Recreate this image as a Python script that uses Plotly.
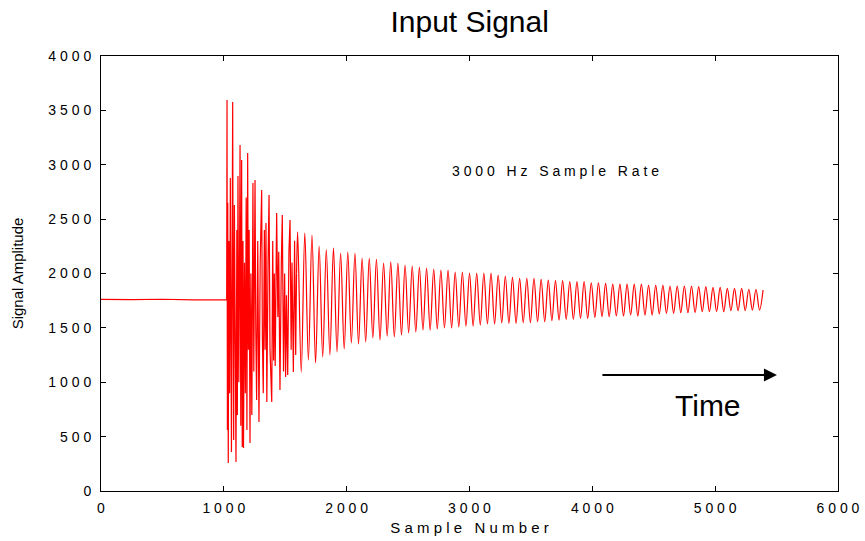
import plotly.graph_objects as go

# ---------------- data ----------------
# flat pre-trigger baseline
baseline_samples = [0, 250, 500, 750, 1023]
baseline_values = [1762, 1759, 1763, 1758, 1760]

# chaotic onset burst (sample, amplitude) extremes
burst_samples = [1023, 1026, 1029, 1032, 1036, 1041, 1047, 1053, 1062, 1067,
                 1072, 1077, 1080, 1086, 1093, 1099, 1106, 1110, 1115, 1122,
                 1128, 1132, 1138, 1145, 1150, 1156, 1160, 1168, 1175, 1182,
                 1188, 1194, 1200, 1206, 1213, 1220, 1228, 1237, 1244, 1254,
                 1260, 1267, 1276, 1286, 1296, 1308, 1314, 1321, 1330, 1336,
                 1343, 1350, 1360, 1368, 1376, 1390, 1398, 1405, 1411, 1418,
                 1430, 1440, 1447, 1457, 1468, 1476, 1486, 1495, 1503, 1510,
                 1520, 1530, 1539, 1548, 1555, 1566, 1576, 1585, 1592]
burst_values = [1760, 3595, 560, 2650, 257, 2300, 900, 2878, 359, 2600,
                3577, 1300, 469, 2630, 1500, 267, 2400, 700, 2896, 1000,
                2200, 3182, 600, 3044, 405, 2300, 395, 2100, 900, 2700,
                560, 3108, 1300, 2400, 441, 2000, 700, 2832, 1100, 2860,
                1500, 837, 2300, 634, 2100, 2768, 1400, 900, 2400, 1300,
                2464, 818, 2100, 2722, 1300, 818, 2300, 1200, 2000, 1150,
                2556, 1600, 2200, 929, 2100, 2538, 1100, 2000, 1048, 1800,
                1067, 2200, 2492, 1300, 2100, 1094, 2300, 1250, 2000]

# regular decaying oscillation: one peak and one trough per cycle
CYCLE_START = 1601      # sample of first regular peak
PERIOD = 58.3           # samples per cycle
peak_values = [2384, 2372, 2354, 2253, 2220, 2234, 2188, 2197, 2188, 2142, 2142, 2133, 2096,
               2106, 2096, 2078, 2069, 2060, 2050, 2041, 2032, 2032, 2014, 2014, 2004, 2004,
               2004, 2004, 1986,
               1977, 1965, 1956, 1956, 1956, 1947, 1940, 1934, 1934, 1925, 1925, 1925, 1915,
               1915, 1909, 1903, 1903, 1903,
               1903, 1903, 1894, 1894, 1894, 1885, 1885, 1885, 1885, 1879, 1879, 1873, 1873,
               1864, 1864, 1864, 1855, 1855]
trough_values = [1094, 1204, 1177, 1232, 1250, 1278, 1306, 1361, 1352, 1370, 1407, 1389,
                 1425, 1416, 1434, 1453, 1462, 1480, 1480, 1490, 1499, 1499, 1508, 1517, 1517,
                 1526, 1536, 1536, 1545,
                 1542, 1542, 1548, 1548, 1557, 1557, 1566, 1572, 1579, 1579, 1588, 1588, 1597,
                 1603, 1603, 1609, 1609, 1618,
                 1609, 1618, 1618, 1628, 1634, 1634, 1640, 1640, 1640, 1649, 1649, 1649, 1649,
                 1658, 1658, 1658, 1664, 1664]
end_sample = 5390
end_value = 1848

x_tick_vals = [0, 1000, 2000, 3000, 4000, 5000, 6000]
x_tick_labels = ["0", "1000", "2000", "3000", "4000", "5000", "6000"]
y_tick_vals = [0, 500, 1000, 1500, 2000, 2500, 3000, 3500, 4000]
y_tick_labels = ["0", "500", "1000", "1500", "2000", "2500", "3000", "3500", "4000"]

# ---------------- build traces ----------------
reg_x, reg_y = [burst_samples[-1]], [burst_values[-1]]
for k, (p, t) in enumerate(zip(peak_values, trough_values)):
    reg_x += [CYCLE_START + k * PERIOD, CYCLE_START + (k + 0.5) * PERIOD]
    reg_y += [p, t]
reg_x.append(end_sample)
reg_y.append(end_value)

FONT = "Liberation Sans, Arial, Helvetica, sans-serif"
RED = "#ff0000"


def spaced(s, gap="\u00a0"):
    return (gap * 3).join(gap.join(w) for w in s.split(" "))


fig = go.Figure()
fig.add_trace(go.Scatter(x=baseline_samples + burst_samples, y=baseline_values + burst_values,
                         mode="lines", line=dict(color=RED, width=1.2), hoverinfo="skip",
                         showlegend=False))
fig.add_trace(go.Scatter(x=reg_x, y=reg_y, mode="lines",
                         line=dict(color=RED, width=1.2, shape="spline", smoothing=1.0),
                         hoverinfo="skip", showlegend=False))

tick_gap = "\u00a0"
fig.update_layout(
    width=865, height=541,
    margin=dict(l=101, r=27, t=56, b=50),
    paper_bgcolor="white", plot_bgcolor="white",
    font=dict(family=FONT, color="black"),
    title=dict(text="Input Signal", x=0.543, xanchor="center", y=0.96, yanchor="middle",
               font=dict(size=30, family=FONT, color="black")),
    xaxis=dict(range=[0, 6000], showgrid=False, zeroline=False, automargin=False,
               showline=True, linecolor="black", linewidth=1, mirror="ticks",
               ticks="inside", ticklen=5, tickcolor="black", ticklabelstandoff=4,
               tickvals=x_tick_vals, ticktext=[spaced(t, tick_gap) for t in x_tick_labels],
               tickfont=dict(size=14, family=FONT, color="black"),
               title=dict(text=spaced("Sample Number"), font=dict(size=15, family=FONT, color="black"),
                          standoff=7)),
    yaxis=dict(range=[0, 4000], showgrid=False, zeroline=False, automargin=False,
               showline=True, linecolor="black", linewidth=1, mirror="ticks",
               ticks="inside", ticklen=5, tickcolor="black", ticklabelstandoff=6,
               tickvals=y_tick_vals, ticktext=[spaced(t, tick_gap) for t in y_tick_labels],
               tickfont=dict(size=14, family=FONT, color="black"),
               title=dict(text="Signal Amplitude", font=dict(size=15, family=FONT, color="black"),
                          standoff=21)),
    annotations=[
        dict(x=3704, y=2942, xref="x", yref="y", text=spaced("3000 Hz Sample Rate"),
             showarrow=False, font=dict(size=14, family=FONT, color="black")),
        dict(x=5503, y=1067, ax=4070, ay=1067, xref="x", yref="y", axref="x", ayref="y",
             text="", showarrow=True, arrowhead=2, arrowsize=1.3, arrowwidth=2, arrowcolor="black"),
        dict(x=4942, y=790, xref="x", yref="y", text="Time", showarrow=False,
             font=dict(size=30, family=FONT, color="black")),
    ],
)

fig.write_html("out.html")
